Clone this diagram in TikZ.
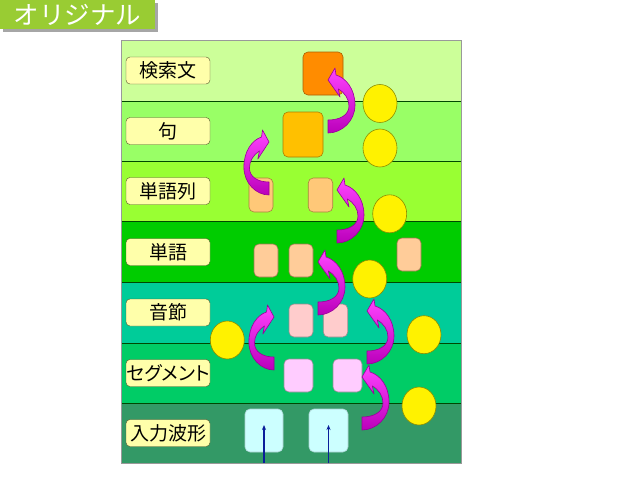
\documentclass[tikz,border=0pt]{standalone}
\usepackage{fontspec}
\usetikzlibrary{shapes.geometric,arrows.meta}
\newfontfamily\jp{Noto Sans CJK JP}
\newfontfamily\jpp{Noto Sans CJK JP}[RawFeature=+palt]
\definecolor{bandA}{HTML}{CCFF99}
\definecolor{bandB}{HTML}{99FF66}
\definecolor{bandC}{HTML}{99FF33}
\definecolor{bandD}{HTML}{00CC00}
\definecolor{bandE}{HTML}{00CC99}
\definecolor{bandF}{HTML}{00CC66}
\definecolor{bandG}{HTML}{339966}
\definecolor{labfill}{HTML}{FFFFAA}
\definecolor{titlegreen}{HTML}{99CC33}
\definecolor{arrtop}{HTML}{FF44FF}
\definecolor{arrbot}{HTML}{BB00BB}
\definecolor{arrline}{HTML}{990099}
\definecolor{dotline}{HTML}{8C8C00}
\definecolor{wirecol}{HTML}{0A1E9A}
\tikzset{
  band/.style={draw=black!60!green!70!black, line width=0.6pt},
  lab/.style={draw=black!50!olive, fill=labfill, rounded corners=4pt, minimum width=84pt,
    minimum height=27pt, inner sep=0pt, font=\jp\fontsize{19}{19}\selectfont},
  blk/.style={rounded corners=5pt, line width=0.6pt, inner sep=0pt},
  dot/.style={ellipse, fill=yellow, draw=dotline, line width=0.6pt,
    minimum width=34pt, minimum height=38pt, inner sep=0pt},
  wire/.style={draw=wirecol, line width=1.1pt, -{Stealth[length=5pt,width=4pt]}},
  carrow/.pic={
    \path[top color=arrtop, bottom color=arrbot, draw=arrline, line width=0.6pt, line join=round]
    (0,0) .. controls (14,0) and (27,-12) .. (27,-28)
    .. controls (27,-44) and (18,-55) .. (8,-58)
    -- (7,-65) -- (0,-53) -- (12,-36) -- (10.3,-44.1)
    .. controls (17,-40) and (21,-34) .. (21,-27)
    .. controls (21,-18) and (12,-13) .. (0,-13) -- cycle;
  }
}
\begin{document}
\begin{tikzpicture}[x=1pt,y=-1pt]
\useasboundingbox (0,0) rectangle (638,479);
\fill[white] (0,0) rectangle (638,479);
% title
\fill[black!35] (3,3) rectangle (158,32);
\node[fill=titlegreen, minimum width=155pt, minimum height=29pt, inner sep=0pt,
  text=white, font=\jp\fontsize{25.5}{25.5}\selectfont] (title) at (77.5,14.5) {オリジナル};
% bands
\path[band, fill=bandA] (121.5,40) rectangle (461.5,101) node[pos=.5] (b1) {};
\path[band, fill=bandB] (121.5,101) rectangle (461.5,161) node[pos=.5] (b2) {};
\path[band, fill=bandC] (121.5,161) rectangle (461.5,221.5) node[pos=.5] (b3) {};
\path[band, fill=bandD] (121.5,221.5) rectangle (461.5,282) node[pos=.5] (b4) {};
\path[band, fill=bandE] (121.5,282) rectangle (461.5,343) node[pos=.5] (b5) {};
\path[band, fill=bandF] (121.5,343) rectangle (461.5,403) node[pos=.5] (b6) {};
\path[band, fill=bandG] (121.5,403) rectangle (461.5,463) node[pos=.5] (b7) {};
\draw[black!40, line width=0.6pt] (121.5,40) rectangle (461.5,463);
% labels
\node[lab] (l1) at (168,70.5) {検索文};
\node[lab] (l2) at (168,131) {句};
\node[lab] (l3) at (168,191) {単語列};
\node[lab] (l4) at (168,252) {単語};
\node[lab] (l5) at (168,312.5) {音節};
\node[lab, font=\jpp\fontsize{19}{19}\selectfont] (l6) at (168,373) {セグメント};
\node[lab] (l7) at (168,433) {入力波形};
% yellow dots
\node[dot] (c1) at (380,103.5) {};
\node[dot] (c2) at (380,148) {};
\node[dot] (c3) at (389.7,213.8) {};
\node[dot] (c4) at (369.7,279) {};
\node[dot] (c5) at (227.3,340) {};
\node[dot] (c6) at (424,334.7) {};
\node[dot] (c7) at (419,406) {};
% boxes
\node[blk, fill={rgb,255:red,255;green,140;blue,0}, draw={rgb,255:red,170;green,95;blue,0},
  minimum width=40pt, minimum height=43pt] (k1) at (323,73.5) {};
\node[blk, fill={rgb,255:red,255;green,192;blue,0}, draw={rgb,255:red,170;green,125;blue,0},
  minimum width=40pt, minimum height=45pt] (p1) at (303,134.5) {};
\node[blk, fill={rgb,255:red,255;green,200;blue,120}, draw={rgb,255:red,170;green,130;blue,60},
  minimum width=24pt, minimum height=34pt] (r1) at (261,195) {};
\node[blk, fill={rgb,255:red,255;green,200;blue,120}, draw={rgb,255:red,170;green,130;blue,60},
  minimum width=24.5pt, minimum height=34pt] (r2) at (320.5,195) {};
\node[blk, fill={rgb,255:red,255;green,204;blue,153}, draw={rgb,255:red,160;green,120;blue,80},
  minimum width=24pt, minimum height=33pt] (w1) at (266,260.5) {};
\node[blk, fill={rgb,255:red,255;green,204;blue,153}, draw={rgb,255:red,160;green,120;blue,80},
  minimum width=24pt, minimum height=33pt] (w2) at (301,260.5) {};
\node[blk, fill={rgb,255:red,255;green,204;blue,153}, draw={rgb,255:red,160;green,120;blue,80},
  minimum width=24pt, minimum height=33pt] (w3) at (409,254.5) {};
\node[blk, fill={rgb,255:red,255;green,204;blue,204}, draw={rgb,255:red,150;green,140;blue,140},
  minimum width=24pt, minimum height=33pt] (s1) at (301,320.5) {};
\node[blk, fill={rgb,255:red,255;green,204;blue,204}, draw={rgb,255:red,150;green,140;blue,140},
  minimum width=24.5pt, minimum height=33pt] (s2) at (335.5,320.5) {};
\node[blk, fill={rgb,255:red,255;green,204;blue,255}, draw={rgb,255:red,150;green,140;blue,150},
  minimum width=29pt, minimum height=33pt] (g1) at (298.5,375.5) {};
\node[blk, fill={rgb,255:red,255;green,204;blue,255}, draw={rgb,255:red,150;green,140;blue,150},
  minimum width=29pt, minimum height=33pt] (g2) at (347.5,375.5) {};
\node[blk, fill={rgb,255:red,204;green,255;blue,255}, draw={rgb,255:red,170;green,210;blue,210},
  minimum width=38pt, minimum height=43pt] (i1) at (264,430.5) {};
\node[blk, fill={rgb,255:red,204;green,255;blue,255}, draw={rgb,255:red,170;green,210;blue,210},
  minimum width=39pt, minimum height=43pt] (i2) at (328.5,430.5) {};
% input wires
\coordinate (ia) at (264,463);
\coordinate (iat) at (264,425);
\coordinate (ib) at (328.5,463);
\coordinate (ibt) at (328.5,425);
\draw[wire] (ia) -- (iat);
\draw[wire] (ib) -- (ibt);
% curved arrows
\pic at (328,133) {carrow};
\pic[xscale=-0.93] at (269,195) {carrow};
\pic at (337,243) {carrow};
\pic at (318,315) {carrow};
\pic[xscale=-0.93] at (274,370) {carrow};
\pic at (367,364) {carrow};
\pic at (362,430) {carrow};
\end{tikzpicture}
\end{document}
